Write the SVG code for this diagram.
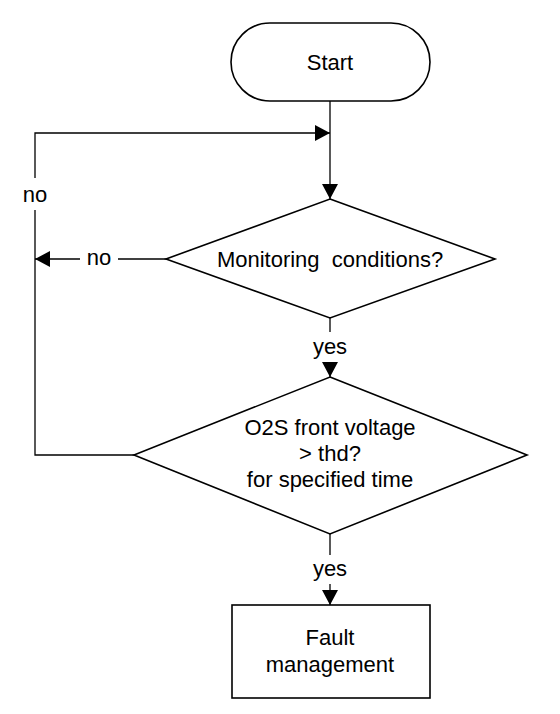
<svg xmlns="http://www.w3.org/2000/svg" width="560" height="714" viewBox="0 0 560 714">
<style>
.s{fill:#fff;stroke:#000;stroke-width:1.6}
.c{fill:none;stroke:#000;stroke-width:1.3}
text{font-family:"Liberation Sans",Arial,sans-serif;font-size:22px;fill:#000;text-anchor:middle}
</style>
<defs>
<marker id="a" markerWidth="15" markerHeight="16" refX="15" refY="8" orient="auto" markerUnits="userSpaceOnUse">
<path d="M0,0 L15,8 L0,16 Z" fill="#000"/>
</marker>
</defs>
<rect width="560" height="714" fill="#fff"/>
<g id="connectors">
<path class="c" d="M330,101 V199" marker-end="url(#a)"/>
<path class="c" d="M35,178 V133 H330" marker-end="url(#a)"/>
<path class="c" d="M35,210 V455 H134"/>
<path class="c" d="M166,259 H118"/>
<path class="c" d="M80,259 H35" marker-end="url(#a)"/>
<path class="c" d="M330,318 V332"/>
<path class="c" d="M330,362 V377" marker-end="url(#a)"/>
<path class="c" d="M330,534 V555"/>
<path class="c" d="M330,584 V605" marker-end="url(#a)"/>
<text x="35" y="202">no</text>
<text x="99" y="265">no</text>
<text x="330" y="354">yes</text>
<text x="330" y="576">yes</text>
</g>
<g id="start">
<rect class="s" x="231" y="23" width="199" height="78" rx="39" ry="39"/>
<text x="330" y="70">Start</text>
</g>
<g id="monitoring">
<polygon class="s" points="330,199 495,259 330,318 166,259"/>
<text x="330" y="267" xml:space="preserve">Monitoring  conditions?</text>
</g>
<g id="o2s">
<polygon class="s" points="330,377 527,455 330,534 134,455"/>
<text x="330" y="435">O2S front voltage</text>
<text x="330" y="461">&gt; thd?</text>
<text x="330" y="487">for specified time</text>
</g>
<g id="fault">
<rect class="s" x="232" y="605" width="198" height="93"/>
<text x="330" y="645">Fault</text>
<text x="330" y="672">management</text>
</g>
</svg>
